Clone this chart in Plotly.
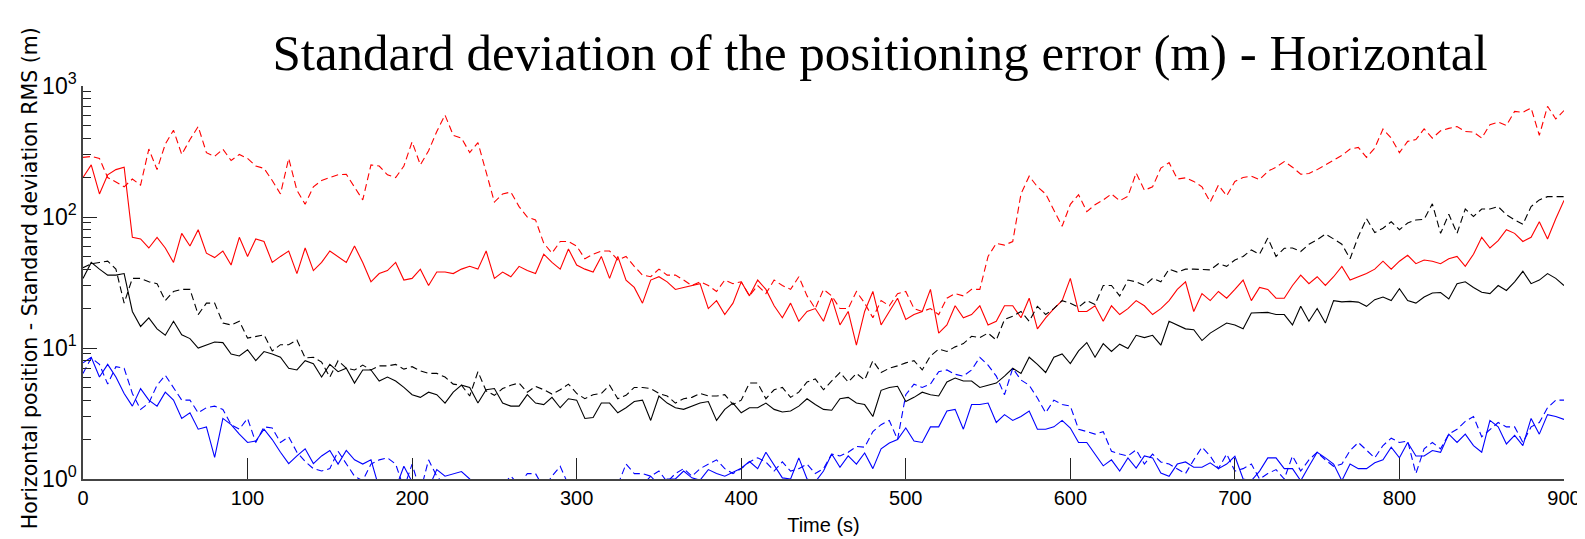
import numpy as np
import plotly.graph_objects as go

# time axis (s)
time_s = list(range(0, 901, 5))

red_solid = [
    200, 250, 150, 210, 230, 240, 70, 68, 58, 70,
    58, 45, 75, 60, 80, 53, 49, 55, 43, 70,
    50, 68, 65, 45, 50, 55, 37, 58, 39, 45,
    55, 50, 45, 60, 45, 32, 37, 39, 45, 33,
    34, 40, 30, 38, 38, 37, 40, 42, 40, 55,
    34, 38, 35, 42, 39, 37, 52, 45, 40, 57,
    43, 40, 38, 50, 34, 50, 33, 29, 22, 33,
    35, 32, 28, 29, 30, 31, 20, 23, 18, 22,
    32, 25, 33, 28, 21, 17, 22, 16, 19, 20,
    16, 24, 15, 19, 10.5, 19, 27, 15, 19, 24,
    16.5, 18, 19, 28, 13, 15, 21, 17, 18, 21,
    15, 16, 21, 21, 17, 24, 14, 17, 20, 23,
    34, 19, 19, 21, 16, 21, 18, 20, 23, 21,
    18, 20, 23, 28, 32, 19, 26, 23, 27, 24,
    28, 33, 23, 29, 28, 24, 24, 30, 36, 31,
    35, 30, 35, 42, 33, 35, 37, 40, 46, 40,
    46, 51, 44, 47, 46, 44, 48, 50, 42, 52,
    70, 58, 66, 80, 75, 65, 70, 92, 68, 97,
    134,
]

red_dashed = [
    285, 290, 280, 200, 185, 170, 195, 175, 330, 230,
    360, 460, 300, 390, 490, 310, 290, 330, 270, 300,
    280, 245, 235, 190, 150, 280, 160, 125, 170, 190,
    200, 210, 212, 170, 135, 250, 245, 210, 200, 245,
    375, 250, 320, 450, 600, 420, 400, 310, 370, 220,
    130, 150, 155, 120, 100, 95, 63, 53, 65, 65,
    60, 48, 52, 55, 55, 47, 50, 42, 36, 35,
    40, 36, 36, 33, 30, 32, 30, 27, 33, 31,
    32, 25, 30, 26, 33, 30, 28, 35, 25, 20,
    28, 25, 20, 20, 27, 22, 17, 23, 21, 26,
    27, 20, 19, 20, 18, 24, 26, 25, 28, 28,
    50, 63, 61, 65, 150, 205, 170, 150, 114, 85,
    125, 148, 110, 124, 135, 150, 133, 144, 217, 160,
    170, 236, 260, 195, 199, 187, 170, 130, 175, 145,
    187, 200, 205, 193, 223, 240, 265, 240, 212, 215,
    230, 250, 272, 295, 330, 340, 285, 336, 470, 400,
    310, 378, 390, 470, 400, 455, 475, 490, 450, 445,
    400, 507, 530, 500, 640, 630, 680, 420, 700, 560,
    650,
]

black_solid = [
    34, 45, 40, 36, 36, 37, 19, 14.6, 17, 14,
    12.5, 16, 12.6, 11.8, 10, 10.5, 11.1, 11, 9, 8.7,
    9.7, 8, 9.4, 9, 8.5, 7, 6.8, 8, 7.6, 6,
    7.5, 6.6, 7, 5.4, 6.8, 6.8, 5.6, 6, 5.6, 5,
    4.4, 4.2, 4.6, 4.4, 3.8, 4.6, 5.2, 5, 3.8, 4.8,
    4.9, 3.8, 3.6, 3.6, 4.4, 3.8, 3.7, 4.2, 3.5, 4.1,
    4, 2.9, 2.95, 3.8, 3.8, 3.2, 3.5, 3.9, 4, 2.8,
    4.3, 3.8, 3.5, 3.4, 3.6, 3.8, 3.9, 2.8, 3.4, 3.8,
    3.2, 3.5, 3.5, 3.8, 3.4, 3.25, 3.3, 3.6, 4.1, 3.7,
    3.4, 3.35, 4.1, 4.2, 3.8, 3.7, 3, 4.75, 5, 5.1,
    3.9, 4.2, 4.6, 4.4, 4.3, 5.5, 5.9, 5.6, 5.6, 5,
    5.2, 5.4, 6.1, 7, 6.4, 8.5, 7.5, 6.5, 8.5, 9,
    7.6, 9.5, 11, 8.5, 10.8, 9.4, 10.7, 9.9, 12.5, 12,
    12.5, 10.5, 16, 15, 14, 13.8, 11.4, 13, 14.2, 15.5,
    15, 14, 18.5, 18.7, 18.7, 18, 18, 15, 20.8, 16,
    20, 15.5, 23, 22.5, 22.7, 22.4, 20.8, 23.4, 24.5, 23,
    28.4, 23, 22, 24.5, 26.3, 26.5, 23.7, 31, 32, 29,
    26.6, 26, 30, 27.5, 32, 38.5, 31, 33, 37, 34,
    30,
]

black_dashed = [
    41, 44, 45, 46, 40, 22, 34, 34, 32, 31,
    23, 27, 28, 28, 18, 22, 22, 15.5, 15, 16,
    11.9, 12.3, 12.6, 9.5, 10.6, 10.6, 11.5, 8.4, 8.5, 7.8,
    6, 8, 7, 6.8, 7.4, 6.8, 7.3, 7.3, 7.5, 6.9,
    7.2, 6.7, 6.4, 6.4, 6, 5.3, 5.2, 4.3, 6.6, 4.7,
    4.35, 4.9, 5.2, 5.4, 4.6, 5.1, 4.8, 4.45, 4.8, 5.3,
    4.5, 4.1, 4.4, 4.5, 5.2, 4.1, 4.35, 5, 5, 4.9,
    4.5, 4.3, 3.8, 4.1, 4.2, 4.5, 4.3, 4.3, 4.4, 3.7,
    4, 5.4, 5.4, 4.1, 4.8, 5, 4.2, 4.6, 5.5, 5.8,
    4.8, 5.6, 6.5, 5.5, 6.4, 5.7, 8, 6.5, 7, 7.3,
    7.7, 8, 6.8, 8.7, 9.8, 9.4, 10.2, 10.8, 12.3, 12,
    13, 11.5, 16.5, 17.5, 19, 16, 20.8, 18, 20, 23,
    22, 20.5, 23, 21.5, 30, 30, 25, 33, 32, 30,
    34, 32, 40, 38, 40, 40, 40, 39.5, 44, 42,
    47, 50, 56, 52, 69, 50, 57.7, 58, 54.5, 62,
    67, 74, 68, 62, 48, 71, 97, 76, 82, 92,
    80, 90, 95, 96, 126, 75, 105, 75, 115, 101,
    115, 115, 120, 104, 95, 88, 120, 135, 143, 143,
    143,
]

blue_solid = [
    7.7, 8.5, 6, 7.5, 6, 4.5, 3.6, 4.9, 4, 3.6,
    4.6, 4, 2.9, 3.2, 2.4, 2.5, 1.46, 2.9, 2.6, 2.2,
    1.9, 1.95, 2.4, 2, 1.6, 1.31, 1.5, 1.7, 1.31, 1.5,
    1.65, 1.3, 1.65, 1.4, 1.3, 1.4, 0.85, 0.9, 0.85, 1.25,
    0.95, 0.8, 0.85, 1.18, 1.05, 1.1, 1.14, 1.0, 0.85, 0.8,
    0.75, 0.8, 0.85, 0.8, 0.9, 0.8, 0.75, 0.8, 0.9, 0.85,
    0.8, 0.9, 0.85, 0.8, 0.9, 0.85, 0.9, 0.95, 0.9, 1.05,
    0.9, 1.0, 1.0, 1.15, 1.02, 0.98, 1.18, 1.1, 1.05, 1.13,
    1.21, 1.36, 1.2, 1.6, 1.29, 1.02, 1.0, 1.45, 1.0, 0.95,
    1.15, 1.55, 1.23, 1.5, 1.3, 1.58, 1.2, 1.7, 1.88, 2.0,
    2.45, 1.95, 1.9, 2.5, 2.5, 3.3, 3.4, 2.4, 3.7, 3.7,
    3.8, 2.7, 3.1, 2.8, 3.0, 3.3, 2.4, 2.4, 2.5, 2.8,
    2.45, 1.9, 1.9, 1.55, 1.26, 1.4, 1.15, 1.45, 1.21, 1.5,
    1.45, 1.11, 1.05, 1.3, 1.35, 1.23, 1.23, 1.33, 1.2, 1.3,
    1.49, 1.0, 0.97, 1.15, 1.45, 1.45, 1.2, 1.2, 0.97, 1.25,
    1.6, 1.45, 1.3, 0.97, 1.3, 1.2, 1.2, 1.33, 1.4, 1.75,
    1.45, 1.9, 1.5, 1.5, 1.65, 1.6, 2.2, 1.9, 2.2, 1.8,
    1.6, 2.8, 2.5, 1.85, 2.15, 1.8, 2.9, 2.2, 3.1, 3.0,
    2.85,
]

blue_dashed = [
    6.4, 8.4, 7.5, 5.3, 7.2, 7.0, 4.5, 3.4, 3.8, 5.2,
    6.2, 5, 4, 4, 3.2, 3.5, 3.6, 3.4, 2.6, 2.4,
    2.9, 1.9, 2.5, 2.45, 1.9, 2.1, 1.6, 1.36, 1.2, 1.15,
    1.2, 1.63, 1.3, 1.05, 0.97, 1.3, 1.4, 1.45, 1.3, 0.85,
    1.3, 0.8, 1.4, 1.05, 0.9, 0.8, 0.7, 0.8, 0.9, 0.75,
    0.8, 0.9, 1.05, 0.9, 1.1, 1.1, 0.85, 1.05, 1.25, 0.9,
    0.7, 0.8, 0.9, 0.85, 0.8, 0.9, 1.3, 1.1, 1.1, 1.05,
    1.15, 0.95, 1.1, 1.2, 1.05, 1.2, 1.3, 1.4, 1.2, 1.1,
    1.2, 1.35, 1.45, 1.35, 1.15, 1.35, 1.15, 1.2, 1.3, 1.1,
    1.2, 1.55, 1.5, 1.6, 1.77, 1.75, 2.3, 2.6, 2.8, 2.0,
    4.4, 5.3, 5.0, 5.3, 6.6, 6.8, 6.3, 6.1, 6.8, 8.5,
    7.4, 6.1, 4.4, 7.0, 5.7, 5.2, 4.15, 3.2, 4.0, 3.7,
    3.6, 2.4, 2.3, 2.2, 2.3, 1.63, 1.55, 1.5, 1.67, 1.3,
    1.55, 1.35, 1.3, 1.2, 1.1, 1.4, 1.75, 1.5, 1.2, 1.55,
    1.15, 1.2, 1.3, 1.0, 1.1, 1.18, 1.0, 1.5, 1.15, 1.4,
    1.6, 1.4, 1.25, 1.3, 1.65, 1.9, 1.65, 1.45, 1.8, 2.05,
    1.9, 1.95, 1.1, 1.7, 1.9, 1.7, 2.2, 2.4, 2.75, 3.0,
    2.1, 2.4, 2.7, 2.5, 2.5, 1.9, 2.5, 2.7, 3.5, 4.0,
    4.0,
]

x_ticks = [0, 100, 200, 300, 400, 500, 600, 700, 800, 900]
y_tick_vals = [1, 10, 100, 1000]
y_tick_text = ["10<sup>0</sup>", "10<sup>1</sup>", "10<sup>2</sup>", "10<sup>3</sup>"]

title_text = "Standard deviation of the positioning error (m) - Horizontal"
y_title = "Horizontal position - Standard deviation RMS (m)"
x_title = "Time (s)"

series = [
    (red_dashed, "#ff0000", "7px,4px"),
    (red_solid, "#ff0000", "solid"),
    (black_dashed, "#000000", "7px,4px"),
    (black_solid, "#000000", "solid"),
    (blue_dashed, "#0000ff", "7px,4px"),
    (blue_solid, "#0000ff", "solid"),
]

fig = go.Figure()
for vals, col, dash in series:
    fig.add_trace(go.Scatter(
        x=time_s, y=vals, mode="lines",
        line=dict(color=col, width=1.1, dash=dash),
        showlegend=False, hoverinfo="skip",
    ))

tick_font = dict(family="Liberation Sans Narrow, Arial Narrow, Liberation Sans, Arial", size=20, color="#000")

fig.update_layout(
    width=1585, height=539,
    margin=dict(l=75, r=24, t=78, b=68),
    paper_bgcolor="white", plot_bgcolor="white",
    title=dict(
        text=title_text,
        font=dict(family="Liberation Serif, DejaVu Serif, serif", size=51, color="#000"),
        x=872 / 1585, xanchor="center", xref="container",
        y=1 - 44 / 539, yanchor="middle", yref="container",
    ),
    xaxis=dict(
        range=[0, 900], tickvals=x_ticks, ticks="inside", ticklen=21,
        tickcolor="#222", tickwidth=1,
        showline=True, linecolor="#444", linewidth=1.5,
        showgrid=False, zeroline=False, tickfont=tick_font,
        title=dict(text=x_title, font=tick_font, standoff=10),
    ),
    yaxis=dict(
        type="log", range=[0, 3], tickvals=y_tick_vals, ticktext=y_tick_text,
        ticks="inside", ticklen=14, tickcolor="#222", tickwidth=1,
        minor=dict(ticks="inside", ticklen=8, dtick="D1", tickcolor="#222", tickwidth=1, showgrid=False),
        showline=True, linecolor="#444", linewidth=1.5,
        showgrid=False, zeroline=False, tickfont=dict(tick_font, size=23),
    ),
    annotations=[dict(
        text=y_title, textangle=-90, showarrow=False,
        xref="paper", yref="paper",
        x=(22 - 75) / 1486, y=(471 - 270) / 393,
        xanchor="center", yanchor="middle",
        font=dict(family="DejaVu Sans, Liberation Sans", size=20.5, color="#000"),
    )],
)

fig.write_html("out.html")
